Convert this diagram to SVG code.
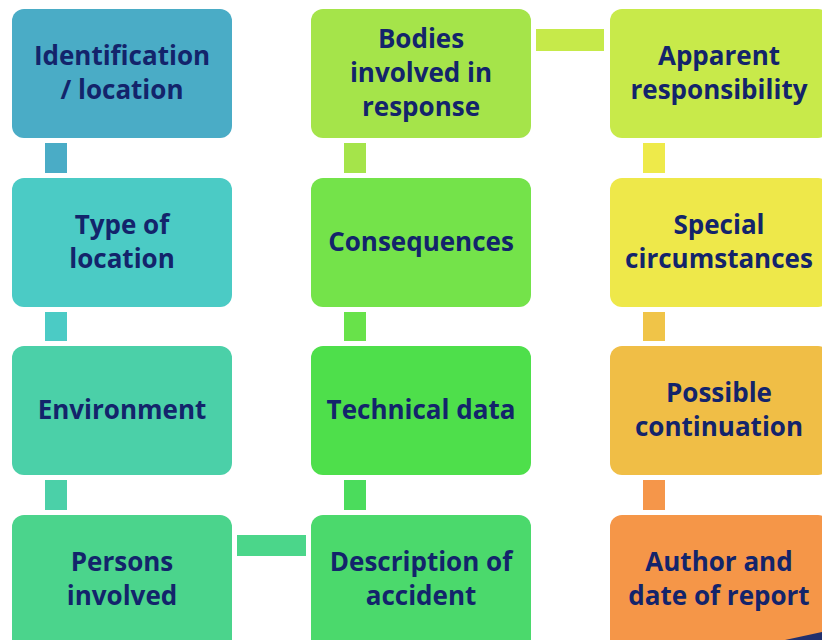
<svg xmlns="http://www.w3.org/2000/svg" width="822" height="640" viewBox="0 0 822 640">
<style>
.box{stroke:none}
.lbl{font-family:"Open Sans","Noto Sans",sans-serif;font-weight:700;font-size:26px;fill:#13246b;text-anchor:middle}
</style>
<rect width="822" height="640" fill="#ffffff"/>
<g id="connectors">
<rect x="45" y="143" width="22" height="30" fill="#4aacc6"/>
<rect x="45" y="312" width="22" height="29" fill="#4bcbc5"/>
<rect x="45" y="480" width="22" height="30" fill="#4bd0a8"/>
<rect x="237" y="535" width="69" height="21" fill="#4bd68a"/>
<rect x="344" y="480" width="22" height="30" fill="#4bdc5c"/>
<rect x="344" y="312" width="22" height="29" fill="#68e24a"/>
<rect x="344" y="143" width="22" height="30" fill="#a5e44a"/>
<rect x="536" y="29" width="68" height="22" fill="#c6ea4a"/>
<rect x="643" y="143" width="22" height="30" fill="#eeea4a"/>
<rect x="643" y="312" width="22" height="29" fill="#f0c448"/>
<rect x="643" y="480" width="22" height="30" fill="#f5964a"/>
</g>
<g id="n1"><rect class="box" x="12" y="9" width="220" height="129" rx="12" fill="#4aacc6"/>
<text class="lbl" x="122" y="65">Identification</text><text class="lbl" x="122" y="99">/ location</text></g>
<g id="n2"><rect class="box" x="12" y="178" width="220" height="129" rx="12" fill="#4bcbc5"/>
<text class="lbl" x="122" y="234">Type of</text><text class="lbl" x="122" y="268">location</text></g>
<g id="n3"><rect class="box" x="12" y="346" width="220" height="129" rx="12" fill="#4bd0a8"/>
<text class="lbl" x="122" y="419">Environment</text></g>
<g id="n4"><rect class="box" x="12" y="515" width="220" height="140" rx="12" fill="#4bd48c"/>
<text class="lbl" x="122" y="571">Persons</text><text class="lbl" x="122" y="605">involved</text></g>
<g id="n5"><rect class="box" x="311" y="515" width="220" height="140" rx="12" fill="#4bd96c"/>
<text class="lbl" x="421" y="571">Description of</text><text class="lbl" x="421" y="605">accident</text></g>
<g id="n6"><rect class="box" x="311" y="346" width="220" height="129" rx="12" fill="#4edf4b"/>
<text class="lbl" x="421" y="419">Technical data</text></g>
<g id="n7"><rect class="box" x="311" y="178" width="220" height="129" rx="12" fill="#74e34a"/>
<text class="lbl" x="421" y="251">Consequences</text></g>
<g id="n8"><rect class="box" x="311" y="9" width="220" height="129" rx="12" fill="#a5e44a"/>
<text class="lbl" x="421" y="48">Bodies</text><text class="lbl" x="421" y="82">involved in</text><text class="lbl" x="421" y="116">response</text></g>
<g id="n9"><rect class="box" x="610" y="9" width="220" height="129" rx="12" fill="#c8ea4a"/>
<text class="lbl" x="719" y="65">Apparent</text><text class="lbl" x="719" y="99">responsibility</text></g>
<g id="n10"><rect class="box" x="610" y="178" width="220" height="129" rx="12" fill="#eee84a"/>
<text class="lbl" x="719" y="234">Special</text><text class="lbl" x="719" y="268">circumstances</text></g>
<g id="n11"><rect class="box" x="610" y="346" width="220" height="129" rx="12" fill="#f0be46"/>
<text class="lbl" x="719" y="402">Possible</text><text class="lbl" x="719" y="436">continuation</text></g>
<g id="n12"><rect class="box" x="610" y="515" width="220" height="140" rx="12" fill="#f59648"/>
<text class="lbl" x="719" y="571">Author and</text><text class="lbl" x="719" y="605">date of report</text></g>
<polygon points="785,640 822,632 822,640" fill="#22306e"/>
</svg>
